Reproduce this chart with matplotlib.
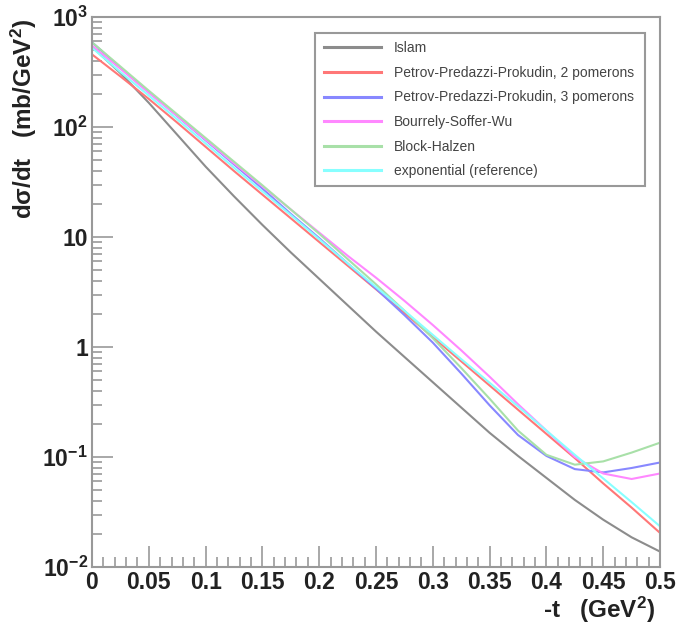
import matplotlib
matplotlib.use("Agg")
import matplotlib.pyplot as plt
from matplotlib.ticker import FixedLocator, FixedFormatter, MultipleLocator
import numpy as np

# -t values (GeV^2)
t = [0.0, 0.025, 0.05, 0.075, 0.1, 0.125, 0.15, 0.175, 0.2, 0.225, 0.25,
     0.275, 0.3, 0.325, 0.35, 0.375, 0.4, 0.425, 0.45, 0.475, 0.5]

# log10 of dsigma/dt (mb/GeV^2)
islam = [2.73, 2.49, 2.22, 1.93, 1.64, 1.37, 1.11, 0.86, 0.62, 0.38, 0.14,
         -0.09, -0.32, -0.55, -0.78, -0.99, -1.19, -1.39, -1.57, -1.73, -1.86]
ppp2 = [2.66, 2.46, 2.255, 2.04, 1.82, 1.60, 1.385, 1.17, 0.955, 0.74, 0.525,
        0.31, 0.09, -0.13, -0.35, -0.57, -0.79, -1.01, -1.24, -1.46, -1.69]
ppp3 = [2.77, 2.54, 2.32, 2.10, 1.88, 1.66, 1.44, 1.21, 0.99, 0.76, 0.53,
        0.29, 0.04, -0.24, -0.53, -0.80, -0.99, -1.11, -1.14, -1.10, -1.05]
bsw = [2.74, 2.53, 2.31, 2.10, 1.885, 1.67, 1.46, 1.25, 1.04, 0.83, 0.63,
       0.42, 0.20, -0.03, -0.27, -0.52, -0.76, -1.0, -1.15, -1.2, -1.15]
bh = [2.77, 2.55, 2.33, 2.115, 1.90, 1.685, 1.47, 1.25, 1.03, 0.80, 0.57,
      0.33, 0.08, -0.19, -0.47, -0.76, -0.98, -1.07, -1.04, -0.96, -0.87]
expo = [2.72, 2.50, 2.285, 2.07, 1.85, 1.63, 1.415, 1.20, 0.98, 0.76, 0.545,
        0.33, 0.11, -0.11, -0.325, -0.54, -0.76, -0.98, -1.195, -1.41, -1.63]

labels = ['Islam', 'Petrov-Predazzi-Prokudin, 2 pomerons',
          'Petrov-Predazzi-Prokudin, 3 pomerons', 'Bourrely-Soffer-Wu',
          'Block-Halzen', 'exponential (reference)']
colors = ['#8c8c8c', '#ff7777', '#8888ff', '#ff88ff', '#a8e0a8', '#88ffff']
series = [islam, ppp2, ppp3, bsw, bh, expo]

xticklabels = ['0', '0.05', '0.1', '0.15', '0.2', '0.25', '0.3', '0.35', '0.4', '0.45', '0.5']
yticks = [1e-2, 1e-1, 1, 10, 1e2, 1e3]
yticklabels = ['10$^{-2}$', '10$^{-1}$', '1', '10', '10$^{2}$', '10$^{3}$']

plt.rcParams['font.family'] = ['Liberation Sans', 'DejaVu Sans']
plt.rcParams['mathtext.fontset'] = 'custom'
plt.rcParams['mathtext.rm'] = 'Liberation Sans:bold'
plt.rcParams['mathtext.default'] = 'rm'

fig = plt.figure(figsize=(6.82, 6.30), dpi=100)
ax = fig.add_axes([92/682, 63/630, 568/682, 550/630])

for vals, c, lab in zip(series, colors, labels):
    ax.plot(t, 10**np.array(vals), color=c, lw=1.5, label=lab)

ax.set_yscale('log')
ax.set_xlim(0, 0.5)
ax.set_ylim(1e-2, 1e3)

for s in ax.spines.values():
    s.set_color('#999999')
    s.set_linewidth(1.5)

ax.xaxis.set_major_locator(FixedLocator(np.arange(0, 0.501, 0.05)))
ax.xaxis.set_minor_locator(MultipleLocator(0.01))
ax.xaxis.set_major_formatter(FixedFormatter(xticklabels))
ax.yaxis.set_major_locator(FixedLocator(yticks))
ax.yaxis.set_major_formatter(FixedFormatter(yticklabels))
ax.tick_params(which='both', direction='in', color='#999999', width=1.2,
               top=False, right=False, labelsize=16.5, labelcolor='#222222')
ax.tick_params(which='major', length=15)
ax.tick_params(which='minor', length=7)
ax.tick_params(axis='x', pad=3)
ax.tick_params(axis='y', pad=3)
for lab in ax.get_xticklabels() + ax.get_yticklabels():
    lab.set_fontweight('bold')

ax.set_xlabel('-t   (GeV$^{2}$)', fontsize=17.5, fontweight='bold',
              color='#222222', loc='right')
ax.xaxis.set_label_coords(0.991, -0.05)
ax.set_ylabel('d\u03c3/dt   (mb/GeV$^{2}$)', fontsize=17.5, fontweight='bold',
              color='#222222', loc='top')
ax.yaxis.set_label_coords(-0.093, 0.997)

leg = ax.legend(loc='upper left', bbox_to_anchor=(0.393, 0.695, 0.581, 0.276),
                mode='expand', borderaxespad=0, fancybox=False, fontsize=10,
                labelspacing=0.76, handlelength=4.1, handletextpad=0.95,
                borderpad=0.6, framealpha=1)
leg.get_frame().set_edgecolor('#999999')
leg.get_frame().set_linewidth(1.5)
for line in leg.get_lines():
    line.set_linewidth(2.2)
for txt in leg.get_texts():
    txt.set_color('#444444')

fig.savefig('out.png', dpi=100)
